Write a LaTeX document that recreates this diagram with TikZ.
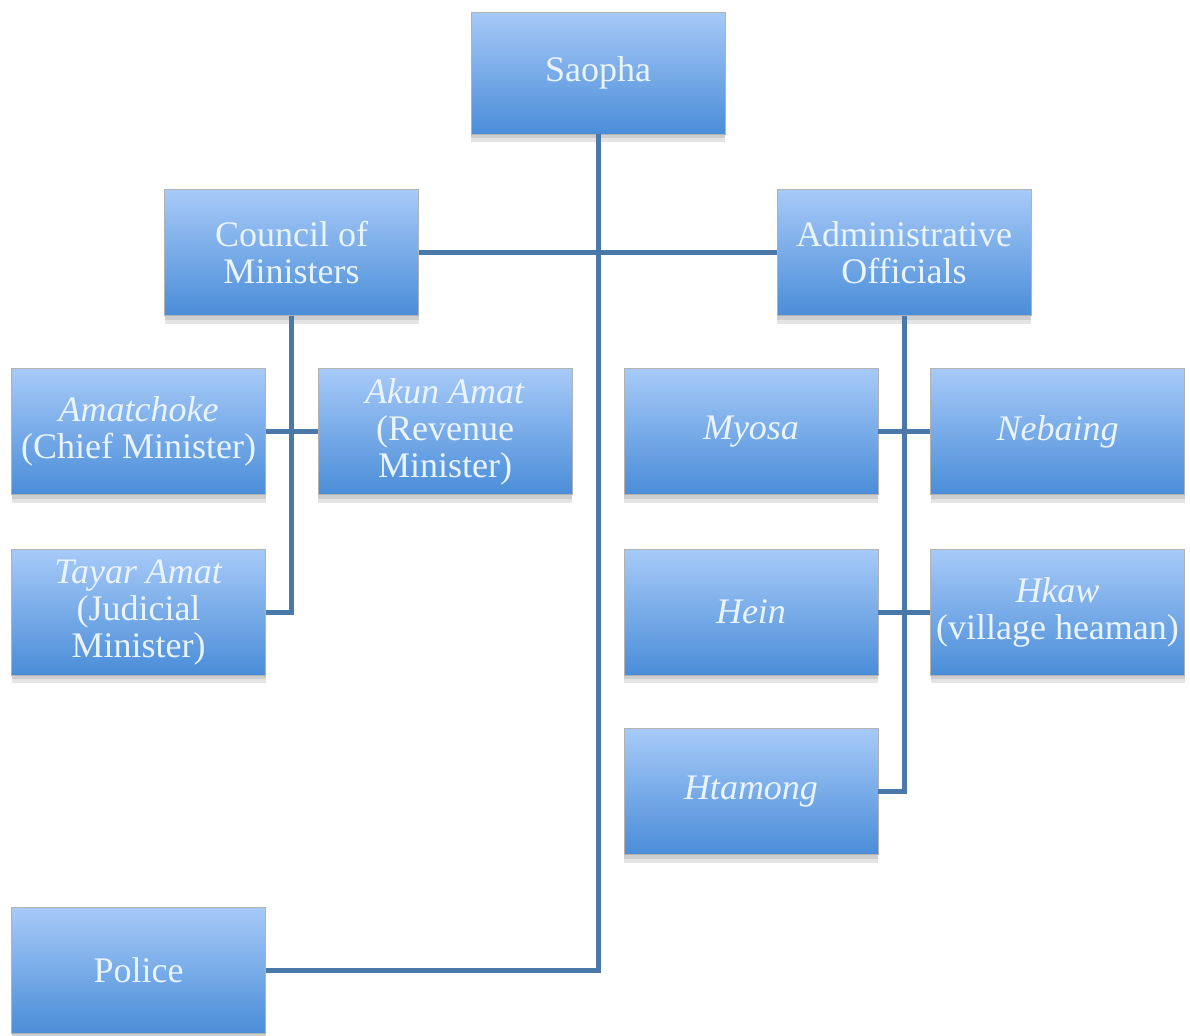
\documentclass[tikz,border=0pt]{standalone}
\usepackage{fontspec}
\setmainfont{Liberation Serif}
\usetikzlibrary{shadows}

\definecolor{boxtop}{HTML}{A7CAF8}
\definecolor{boxbot}{HTML}{4A8DD8}
\definecolor{boxtext}{HTML}{EAF4FF}
\definecolor{linkblue}{HTML}{4A78A8}

\begin{document}
\begin{tikzpicture}[x=0.5pt,y=-0.5pt,
        office/.style={rectangle,draw=black!30,line width=0.4pt,
            top color=boxtop,bottom color=boxbot,text=boxtext,
            minimum width=127pt,minimum height=63pt,inner sep=0pt,
            align=center,font=\fontsize{18}{18.5}\selectfont,
            double copy shadow={shadow xshift=0pt,shadow yshift=-2pt,opacity=0.15,fill=black!70,draw=none}},
        link/.style={draw=linkblue,line width=2.5pt}]
        \useasboundingbox (0,0) rectangle (1190,1035);

        %top level
        \node[office,minimum height=61pt] (saopha) at (598,73) {Saopha};
        \node[office] (council) at (291.5,252.5) {Council of\\Ministers};
        \node[office] (admin) at (904,252.5) {Administrative\\Officials};

        %ministers
        \node[office] (amat) at (138.5,431.5) {\textit{Amatchoke}\\(Chief Minister)};
        \node[office] (akun) at (445,431.5) {\textit{Akun Amat}\\(Revenue\\Minister)};
        \node[office] (tayar) at (138.5,612) {\textit{Tayar Amat}\\(Judicial\\Minister)};

        %officials
        \node[office] (myosa) at (751,431.5) {\textit{Myosa}};
        \node[office] (nebaing) at (1057.5,431.5) {\textit{Nebaing}};
        \node[office] (hein) at (751,612) {\textit{Hein}};
        \node[office] (hkaw) at (1057.5,612) {\textit{Hkaw}\\(village heaman)};
        \node[office] (htamong) at (751,791.5) {\textit{Htamong}};

        %police
        \node[office] (police) at (138.5,970.5) {Police};

        %links
        \draw[link] (saopha.south) -- (saopha.south |- police.east) -- (police.east);
        \draw[link] (council.east) -- (admin.west);
        \draw[link] (council.south) -- (council.south |- tayar.east) -- (tayar.east);
        \draw[link] (amat.east) -- (akun.west);
        \draw[link] (admin.south) -- (admin.south |- htamong.east) -- (htamong.east);
        \draw[link] (myosa.east) -- (nebaing.west);
        \draw[link] (hein.east) -- (hkaw.west);
    \end{tikzpicture}
\end{document}
